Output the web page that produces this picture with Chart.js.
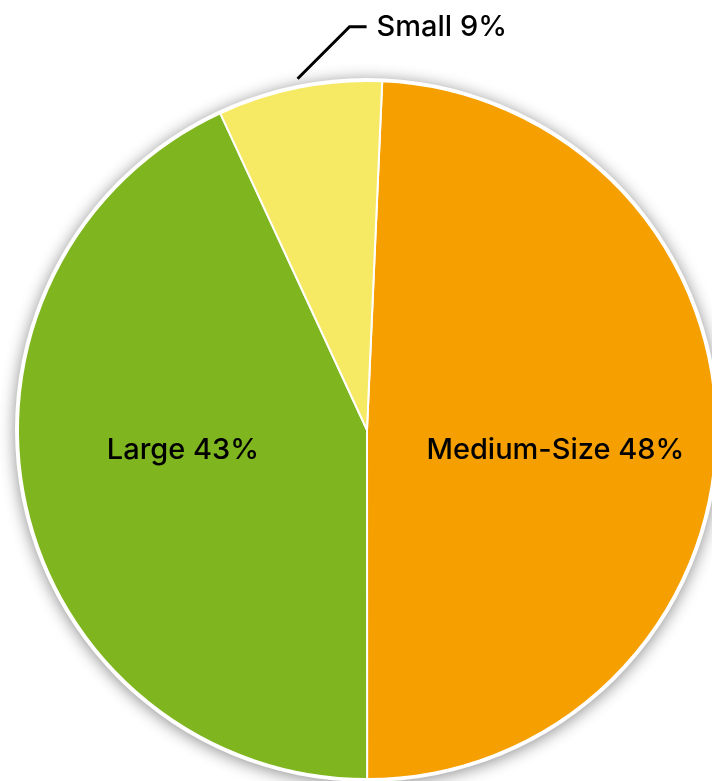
<!DOCTYPE html>
<html>
<head>
<meta charset="utf-8">
<script src="https://cdn.jsdelivr.net/npm/chart.js@4"></script>
<style>
  html, body { margin: 0; padding: 0; background: #fff; overflow: hidden; }
  #wrap { position: absolute; left: 0; top: 0; width: 740px; height: 800px; }
</style>
</head>
<body>
<div id="wrap"><canvas id="myChart"></canvas></div>
<script>
// slice sizes as drawn in the picture, labels as printed on it
const categories = ['Medium-Size', 'Large', 'Small'];
const shares = [49.3, 43.1, 7.6];
const printedPercent = ['48%', '43%', '9%'];
const sliceColors = ['#F5A000', '#7FB51F', '#F6E964'];

// white ring with soft shadow behind the pie
const pieBackdrop = {
    id: 'pieBackdrop',
    beforeDatasetsDraw(chart) {
        const arc = chart.getDatasetMeta(0).data[0];
        if (!arc) return;
        const ctx = chart.ctx;
        ctx.save();
        ctx.shadowColor = 'rgba(0,0,0,0.45)';
        ctx.shadowBlur = 16;
        ctx.shadowOffsetY = 2;
        ctx.fillStyle = '#fff';
        ctx.beginPath();
        ctx.arc(arc.x, arc.y, arc.outerRadius + 3, 0, Math.PI * 2);
        ctx.fill();
        ctx.restore();
    }
};

// text labels, the small slice gets a leader line
const sliceLabels = {
    id: 'sliceLabels',
    afterDatasetsDraw(chart) {
        const ctx = chart.ctx;
        const meta = chart.getDatasetMeta(0);
        ctx.save();
        ctx.font = '500 29px Inter, "Liberation Sans", Arial, sans-serif';
        ctx.fillStyle = '#000';
        ctx.strokeStyle = '#000';
        meta.data.forEach(function (arc, i) {
            const mid = (arc.startAngle + arc.endAngle) / 2;
            const text = categories[i] + ' ' + printedPercent[i];
            if (shares[i] < 15) {
                const r0 = arc.outerRadius + 9;
                const x0 = arc.x + Math.cos(mid) * r0;
                const y0 = arc.y + Math.sin(mid) * r0;
                const x1 = x0 + 52, y1 = y0 - 52;
                ctx.lineWidth = 3;
                ctx.beginPath();
                ctx.moveTo(x0, y0);
                ctx.lineTo(x1, y1);
                ctx.lineTo(x1 + 17, y1);
                ctx.stroke();
                ctx.textAlign = 'left';
                ctx.textBaseline = 'middle';
                ctx.fillText(text, x1 + 27, y1);
            } else {
                const r = arc.outerRadius * 0.54;
                ctx.textAlign = 'center';
                ctx.textBaseline = 'middle';
                ctx.fillText(text, arc.x + Math.cos(mid) * r, arc.y + 20);
            }
        });
        ctx.restore();
    }
};

new Chart(document.getElementById('myChart'), {
    type: 'pie',
    data: {
        labels: categories,
        datasets: [{
            data: shares,
            backgroundColor: sliceColors,
            borderColor: '#fff',
            borderWidth: 2
        }]
    },
    options: {
        responsive: true,
        maintainAspectRatio: false,
        animation: false,
        rotation: 2.5,
        layout: { padding: { left: 17, top: 80, right: 23, bottom: 20 } },
        plugins: {
            legend: { display: false },
            tooltip: { enabled: false }
        }
    },
    plugins: [pieBackdrop, sliceLabels]
});
</script>
</body>
</html>
